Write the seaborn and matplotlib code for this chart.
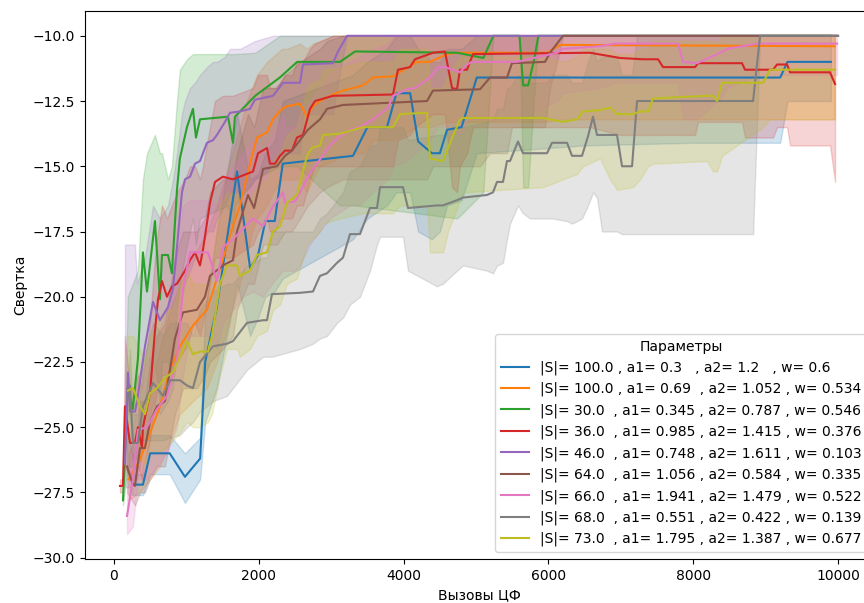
import matplotlib
matplotlib.use("Agg")
import matplotlib.pyplot as plt
import pandas as pd
import seaborn as sns

# legend parameters
S_vals = ["100.0", "100.0", "30.0", "36.0", "46.0", "64.0", "66.0", "68.0", "73.0"]
a1_vals = ["0.3", "0.69", "0.345", "0.985", "0.748", "1.056", "1.941", "0.551", "1.795"]
a2_vals = ["1.2", "1.052", "0.787", "1.415", "1.611", "0.584", "1.479", "0.422", "1.387"]
w_vals = ["0.6", "0.534", "0.546", "0.376", "0.103", "0.335", "0.522", "0.139", "0.677"]

# (x, mean, low, high)
blue = [(250, -27.2, -27.6, -26.8), (400, -27.2, -27.6, -26.8), (500, -26.0, -26.8, -25.3),
        (770, -26.0, -26.8, -25.3), (980, -26.9, -27.9, -26.0), (1190, -26.2, -27.0, -25.4),
        (1260, -22.5, -24.8, -20.5), (1420, -20.4, -23.5, -17.5), (1700, -15.2, -19.5, -13.0),
        (1880, -18.9, -21.5, -15.5), (1990, -18.4, -20.8, -15.3), (2090, -17.1, -20.0, -14.5),
        (2220, -17.1, -19.8, -14.0), (2330, -14.9, -19.3, -12.5), (3300, -14.6, -17.8, -11.5),
        (3500, -13.5, -17.0, -11.0), (3770, -13.5, -16.5, -10.5), (3900, -12.2, -16.0, -10.0),
        (4090, -12.2, -16.0, -10.0), (4200, -14.05, -17.5, -10.5), (4390, -14.5, -17.8, -11.0),
        (4500, -14.5, -17.5, -11.0), (4600, -13.6, -16.5, -10.5), (4800, -13.5, -16.3, -10.5),
        (5010, -11.6, -14.5, -10.0), (6500, -11.6, -14.2, -10.0), (8000, -11.6, -14.1, -10.0),
        (9200, -11.6, -14.1, -10.0), (9300, -11.0, -12.5, -10.0), (9900, -11.0, -12.5, -10.0)]

orange = [(200, -27.0, -27.8, -26.0), (350, -26.3, -27.5, -25.0), (500, -25.2, -27.0, -23.5),
          (635, -24.2, -26.5, -22.0), (773, -22.8, -25.5, -20.5), (911, -21.9, -24.5, -19.5),
          (1091, -21.1, -24.0, -18.5), (1284, -20.5, -23.5, -17.5), (1422, -19.3, -22.5, -16.5),
          (1533, -18.3, -21.5, -15.5), (1630, -17.4, -20.5, -14.5), (1740, -16.5, -19.5, -13.5),
          (1837, -15.4, -18.5, -12.5), (1906, -14.6, -17.5, -12.0), (1975, -13.9, -17.0, -11.5),
          (2113, -13.7, -16.5, -11.0), (2196, -13.2, -16.0, -10.8), (2320, -12.8, -15.5, -10.5),
          (2389, -12.7, -15.5, -10.5), (2569, -12.6, -15.5, -10.3), (2665, -13.1, -16.0, -10.5),
          (2748, -12.7, -15.5, -10.3), (2845, -12.5, -15.0, -10.2), (3024, -12.25, -14.8, -10.0),
          (3163, -12.1, -14.5, -10.0), (3439, -11.9, -14.5, -10.0), (3577, -11.6, -14.0, -10.0),
          (3853, -11.55, -14.0, -10.0), (4184, -11.0, -13.5, -10.0), (4364, -11.0, -13.5, -10.0),
          (4599, -10.7, -13.3, -10.0), (4737, -10.65, -13.3, -10.0), (5980, -10.65, -13.3, -10.0),
          (6159, -10.35, -13.2, -10.0), (9950, -10.4, -13.2, -10.0)]

green = [(125, -27.8, -28.0, -27.5), (190, -23.5, -26.5, -20.0), (260, -24.3, -26.5, -19.5),
         (330, -22.4, -25.5, -19.0), (400, -18.3, -24.0, -15.5), (456, -19.8, -24.0, -14.5),
         (566, -17.1, -22.5, -13.8), (635, -20.1, -24.0, -14.5), (663, -18.4, -22.5, -14.5),
         (746, -18.4, -22.5, -15.5), (800, -19.1, -23.0, -15.0), (870, -15.9, -20.5, -12.5),
         (910, -14.7, -19.5, -11.3), (1008, -13.5, -18.0, -10.9), (1091, -12.8, -17.0, -10.7),
         (1132, -13.9, -18.0, -10.7), (1188, -13.2, -17.0, -10.7), (1574, -13.1, -16.5, -10.7),
         (1643, -14.1, -17.5, -10.7), (1671, -13.1, -16.5, -10.7), (1950, -12.3, -15.5, -10.65),
         (2290, -11.6, -15.0, -10.0), (2530, -11.0, -15.0, -10.0), (3120, -11.0, -16.5, -10.0),
         (3330, -10.6, -16.5, -10.0), (4740, -10.65, -17.0, -10.0), (5100, -10.85, -16.0, -10.0),
         (5240, -10.0, -10.0, -10.0), (5600, -10.0, -10.0, -10.0), (5650, -11.9, -15.8, -10.0),
         (5720, -11.9, -15.8, -10.0), (5810, -10.8, -12.0, -10.0), (5860, -10.0, -10.0, -10.0),
         (9900, -10.0, -10.0, -10.0)]

red = [(83, -27.25, -27.5, -27.0), (124, -27.25, -27.5, -27.0), (152, -24.2, -26.5, -21.5),
       (221, -25.6, -27.0, -23.5), (290, -25.6, -27.0, -23.5), (331, -25.0, -26.5, -23.0),
       (387, -25.8, -27.0, -23.5), (400, -25.0, -26.5, -23.0), (497, -23.7, -25.5, -21.0),
       (566, -21.3, -24.0, -18.5), (608, -20.1, -23.5, -17.5), (663, -19.4, -23.0, -16.5),
       (732, -20.0, -23.0, -17.0), (801, -19.6, -22.5, -16.5), (870, -19.5, -22.5, -16.0),
       (981, -19.0, -22.0, -15.5), (1050, -18.6, -21.5, -15.0), (1119, -18.3, -21.0, -15.0),
       (1188, -18.8, -21.5, -15.5), (1229, -18.2, -21.0, -15.0), (1326, -16.4, -19.5, -13.5),
       (1395, -15.6, -18.5, -12.5), (1505, -15.4, -18.5, -12.3), (1643, -15.5, -18.5, -12.3),
       (1920, -15.2, -18.0, -12.0), (1989, -14.5, -17.5, -11.5), (2113, -14.3, -17.0, -11.5),
       (2154, -14.9, -17.5, -12.0), (2223, -14.9, -17.5, -12.0), (2292, -14.6, -17.0, -11.8),
       (2362, -14.4, -17.0, -11.5), (2458, -14.4, -17.0, -11.5), (2527, -13.9, -16.5, -11.0),
       (2610, -13.8, -16.5, -11.0), (2707, -12.8, -15.5, -10.5), (2776, -12.5, -15.0, -10.3),
       (3024, -12.3, -15.0, -10.0), (3853, -12.25, -15.0, -10.0), (3922, -11.3, -14.0, -10.0),
       (4088, -11.2, -13.8, -10.0), (4157, -10.9, -13.5, -10.0), (4405, -10.65, -13.0, -10.0),
       (4571, -10.6, -13.0, -10.0), (4668, -12.0, -15.8, -10.0), (4737, -12.05, -16.0, -10.0),
       (4778, -11.3, -15.0, -10.0), (4875, -11.3, -14.5, -10.0), (4958, -10.7, -13.5, -10.0),
       (6574, -10.65, -13.5, -10.0), (6988, -10.85, -13.8, -10.0), (7306, -10.9, -13.8, -10.0),
       (7513, -10.9, -13.8, -10.0), (7582, -11.2, -13.8, -10.0), (8024, -11.2, -13.8, -10.0),
       (8066, -11.05, -13.3, -10.0), (8673, -11.05, -13.3, -10.0), (8714, -11.3, -13.9, -10.0),
       (9101, -11.3, -13.9, -10.0), (9156, -11.1, -13.5, -10.0), (9294, -11.1, -13.5, -10.0),
       (9336, -11.4, -14.2, -10.0), (9888, -11.4, -14.2, -10.0), (9957, -11.85, -15.6, -10.0)]

purple = [(152, -26.4, -27.3, -18.0), (193, -22.9, -27.3, -18.0), (221, -24.4, -27.3, -18.0),
          (290, -24.4, -27.0, -18.0), (320, -24.0, -27.0, -19.5), (428, -21.9, -25.5, -18.5),
          (539, -20.2, -24.0, -16.5), (635, -20.9, -24.5, -17.0), (746, -20.4, -24.0, -16.5),
          (815, -19.7, -23.5, -15.5), (870, -18.1, -22.0, -14.5), (939, -16.0, -20.0, -13.0),
          (981, -15.5, -19.5, -12.5), (1050, -15.4, -19.0, -12.0), (1119, -14.9, -18.5, -11.8),
          (1188, -14.8, -18.5, -11.5), (1284, -14.1, -17.5, -11.2), (1367, -14.0, -17.5, -11.0),
          (1422, -13.8, -17.0, -11.0), (1533, -13.3, -16.5, -10.8), (1602, -12.95, -16.0, -10.5),
          (1740, -12.9, -16.0, -10.5), (1878, -12.8, -15.8, -10.3), (1947, -12.45, -15.5, -10.2),
          (2196, -12.3, -15.0, -10.0), (2334, -11.8, -14.5, -10.0), (2569, -11.8, -14.5, -10.0),
          (2610, -11.1, -13.0, -10.0), (3024, -11.05, -13.0, -10.0), (3094, -10.6, -11.8, -10.0),
          (3218, -10.0, -10.0, -10.0), (9990, -10.0, -10.0, -10.0)]

brown = [(180, -26.5, -27.5, -25.0), (249, -27.1, -27.8, -26.0), (290, -27.25, -28.0, -26.3),
         (359, -25.8, -27.5, -24.0), (428, -25.8, -27.5, -24.0), (497, -24.8, -27.0, -22.5),
         (594, -24.2, -26.5, -21.5), (704, -24.0, -26.5, -21.0), (842, -21.6, -24.5, -18.5),
         (953, -20.6, -23.5, -17.5), (1146, -20.5, -23.5, -17.5), (1257, -20.0, -23.0, -17.0),
         (1326, -19.2, -22.5, -16.0), (1505, -18.8, -22.0, -15.5), (1643, -18.6, -21.5, -15.5),
         (1699, -17.5, -20.5, -14.5), (1850, -16.1, -19.5, -13.0), (1935, -16.6, -19.5, -13.5),
         (2060, -15.1, -18.0, -12.0), (2250, -15.0, -18.0, -12.0), (2362, -14.6, -17.5, -11.5),
         (2458, -14.4, -17.5, -11.3), (2569, -14.0, -17.0, -11.0), (2679, -13.6, -16.5, -10.8),
         (2845, -13.2, -16.0, -10.5), (2942, -12.8, -15.8, -10.2), (3163, -12.65, -15.5, -10.0),
         (4323, -12.5, -15.5, -10.0), (4405, -12.1, -15.0, -10.0), (5055, -12.05, -15.0, -10.0),
         (5193, -11.6, -14.5, -10.0), (5427, -11.6, -14.5, -10.0), (5496, -11.05, -13.5, -10.0),
         (5952, -11.0, -13.5, -10.0), (6021, -10.65, -12.0, -10.0), (6118, -10.3, -11.0, -10.0),
         (6201, -10.0, -10.0, -10.0), (9990, -10.0, -10.0, -10.0)]

pink = [(180, -28.4, -29.1, -27.5), (262, -27.0, -28.8, -25.5), (331, -25.1, -27.0, -23.0),
        (456, -25.0, -27.0, -22.5), (594, -24.3, -26.5, -21.5), (732, -23.8, -26.0, -20.5),
        (870, -22.4, -25.0, -18.5), (953, -19.7, -23.0, -16.5), (1050, -18.3, -21.5, -16.3),
        (1298, -18.3, -21.5, -16.3), (1422, -19.4, -22.0, -16.5), (1505, -18.1, -21.0, -15.5),
        (1643, -17.8, -20.5, -15.0), (1782, -17.4, -20.0, -14.5), (1920, -17.0, -19.8, -14.0),
        (2058, -17.3, -20.0, -14.5), (2182, -16.6, -19.5, -13.8), (2334, -16.0, -19.0, -13.0),
        (2362, -16.4, -19.0, -13.5), (2500, -16.35, -19.0, -13.5), (2569, -16.0, -18.8, -13.0),
        (2700, -15.3, -18.0, -12.5), (2983, -14.2, -17.0, -11.5), (3094, -13.9, -16.8, -11.2),
        (3259, -13.6, -16.5, -11.0), (3397, -13.5, -16.5, -10.8), (3577, -13.2, -16.0, -10.5),
        (3784, -12.75, -15.5, -10.3), (3853, -12.3, -15.0, -10.0), (4046, -12.05, -14.8, -10.0),
        (4157, -12.0, -14.5, -10.0), (4364, -11.6, -14.0, -10.0), (4474, -11.2, -13.5, -10.0),
        (4571, -11.2, -13.5, -10.0), (4778, -11.4, -13.8, -10.0), (4875, -11.1, -13.3, -10.0),
        (4944, -11.0, -13.2, -10.0), (5565, -11.0, -13.2, -10.0), (6118, -10.65, -12.5, -10.0),
        (6201, -10.5, -12.2, -10.0), (6712, -10.4, -12.0, -10.0), (6919, -10.3, -11.8, -10.0),
        (7789, -10.3, -11.8, -10.0), (7858, -11.0, -13.2, -10.0), (8052, -11.05, -13.2, -10.0),
        (8411, -10.6, -12.3, -10.0), (8466, -10.5, -12.0, -10.0), (8894, -10.3, -11.5, -10.0),
        (9985, -10.3, -11.5, -10.0)]

grey = [(180, -24.0, -24.5, -23.5), (221, -23.4, -24.5, -22.0), (262, -25.6, -26.2, -24.5),
        (331, -25.6, -26.2, -24.5), (400, -24.2, -25.5, -22.5), (539, -23.3, -25.5, -21.0),
        (677, -23.8, -25.5, -21.5), (773, -23.2, -25.4, -21.0), (911, -23.2, -25.3, -21.0),
        (1008, -23.4, -25.0, -21.0), (1091, -23.5, -24.8, -21.5), (1188, -22.5, -24.4, -20.5),
        (1367, -21.9, -24.0, -19.8), (1561, -21.8, -23.8, -19.5), (1643, -21.7, -23.5, -19.5),
        (1782, -21.2, -23.0, -19.0), (1837, -21.0, -22.8, -18.8), (2058, -20.9, -22.3, -18.5),
        (2113, -20.9, -22.3, -18.5), (2182, -19.9, -22.3, -17.5), (2569, -19.85, -22.0, -17.5),
        (2748, -19.8, -21.8, -17.5), (2845, -19.2, -21.6, -17.0), (2942, -19.1, -21.5, -16.8),
        (3080, -18.7, -21.0, -16.3), (3163, -18.5, -20.8, -16.0), (3259, -17.6, -20.3, -15.2),
        (3397, -17.6, -20.0, -15.0), (3535, -16.6, -19.0, -14.2), (3632, -16.6, -18.0, -14.2),
        (3674, -15.8, -17.7, -13.5), (3991, -15.8, -17.7, -13.5), (4060, -16.6, -19.0, -14.0),
        (4461, -16.5, -19.6, -13.8), (4543, -16.5, -19.5, -13.8), (4737, -16.3, -19.0, -13.5),
        (4820, -16.2, -18.8, -13.5), (5151, -16.1, -19.0, -13.3), (5234, -16.0, -19.1, -13.2),
        (5289, -15.6, -18.8, -12.8), (5372, -15.6, -18.7, -12.8), (5427, -14.8, -17.8, -12.0),
        (5469, -14.8, -17.2, -12.0), (5579, -14.05, -16.5, -11.5), (5648, -14.5, -16.8, -11.8),
        (5745, -14.5, -17.0, -11.8), (5980, -14.5, -17.0, -11.8), (6049, -14.1, -17.0, -11.5),
        (6256, -14.1, -17.1, -11.5), (6325, -14.6, -17.2, -11.8), (6463, -14.6, -17.0, -11.8),
        (6546, -13.85, -16.5, -11.0), (6615, -13.1, -16.0, -10.5), (6670, -13.8, -16.2, -11.0),
        (6739, -13.8, -17.5, -10.8), (6946, -13.8, -17.5, -10.8), (7016, -15.0, -17.6, -11.5),
        (7154, -15.0, -17.6, -11.5), (7223, -12.5, -17.6, -10.0), (8825, -12.5, -17.6, -10.0),
        (8922, -10.0, -10.0, -10.0), (10000, -10.0, -10.0, -10.0)]

olive = [(193, -23.6, -25.5, -21.5), (262, -23.5, -25.5, -21.5), (359, -24.2, -26.0, -22.0),
         (428, -24.5, -26.5, -22.5), (497, -23.7, -26.0, -21.5), (594, -23.5, -26.0, -21.0),
         (704, -23.1, -25.8, -20.5), (815, -22.9, -25.5, -20.5), (911, -22.3, -25.2, -19.5),
         (1008, -21.7, -24.8, -19.0), (1091, -22.2, -25.0, -19.5), (1188, -22.1, -25.0, -19.5),
         (1298, -22.1, -24.8, -19.5), (1353, -21.5, -24.5, -18.8), (1464, -19.5, -23.0, -16.5),
         (1561, -18.8, -22.0, -16.0), (1699, -18.8, -22.0, -16.0), (1740, -19.2, -22.3, -16.5),
         (1878, -19.0, -22.0, -16.3), (1975, -18.4, -21.5, -15.8), (2113, -18.3, -21.3, -15.5),
         (2196, -17.5, -20.5, -14.8), (2292, -17.3, -20.3, -14.5), (2389, -16.4, -19.5, -13.8),
         (2527, -16.1, -19.3, -13.5), (2665, -14.6, -18.0, -12.0), (2734, -14.3, -17.8, -11.8),
         (2845, -14.2, -17.5, -11.7), (2886, -13.8, -17.2, -11.3), (3121, -13.75, -17.0, -11.2),
         (3439, -13.5, -16.8, -11.0), (3853, -13.5, -16.8, -11.0), (3950, -13.0, -16.5, -10.5),
         (4323, -12.95, -16.5, -10.5), (4364, -14.7, -18.3, -12.0), (4543, -14.8, -18.3, -12.0),
         (4613, -14.3, -17.5, -11.5), (4778, -13.2, -16.3, -10.8), (4820, -13.15, -16.0, -10.8),
         (5925, -13.15, -15.8, -10.8), (6201, -13.3, -15.5, -11.0), (6394, -13.2, -15.3, -10.8),
         (6477, -12.9, -15.0, -10.5), (6712, -12.85, -14.7, -10.5), (6850, -12.75, -15.5, -10.5),
         (6946, -13.0, -15.9, -10.7), (7168, -13.0, -15.8, -10.7), (7264, -12.9, -15.5, -10.5),
         (7375, -12.9, -15.0, -10.5), (7444, -12.4, -14.9, -10.2), (8190, -12.3, -14.8, -10.2),
         (8273, -12.3, -15.2, -10.2), (8328, -12.5, -15.2, -10.3), (8397, -11.8, -14.6, -10.0),
         (8963, -11.8, -13.5, -10.0), (9059, -11.3, -13.2, -10.0), (9957, -11.3, -13.2, -10.0)]

series = [blue, orange, green, red, purple, brown, pink, grey, olive]

labels = [f"|S|= {s:<5} , a1= {a1:<5} , a2= {a2:<5} , w= {w}"
          for s, a1, a2, w in zip(S_vals, a1_vals, a2_vals, w_vals)]

rows = []
for lab, pts in zip(labels, series):
    for x, m, lo, hi in pts:
        rows.append((lab, x, lo))
        rows.append((lab, x, m))
        rows.append((lab, x, hi))
df = pd.DataFrame(rows, columns=["Параметры", "Вызовы ЦФ", "Свертка"])

fig = plt.figure(figsize=(8.64, 6.03), dpi=100)
ax = fig.add_axes([85 / 864, 1 - 559 / 603, (874 - 85) / 864, (559 - 11) / 603])
sns.lineplot(data=df, x="Вызовы ЦФ", y="Свертка", hue="Параметры", hue_order=labels,
             estimator="median", errorbar=("pi", 100), ax=ax)
ax.set_xlim(-400, 10495)
ax.set_ylim(-30.05, -9.05)
ax.legend(title="Параметры", loc="lower right")
fig.savefig("out.png", dpi=100)
